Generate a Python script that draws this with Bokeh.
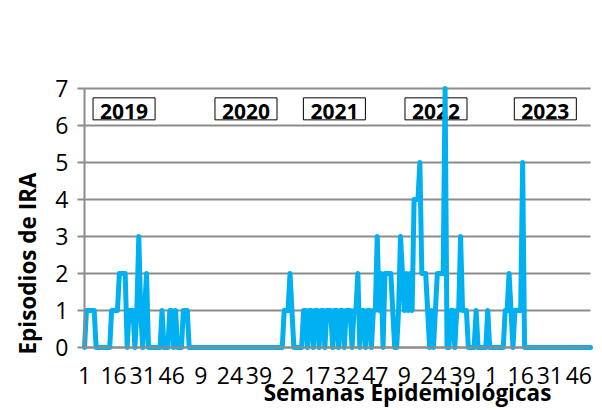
from math import pi
from bokeh.plotting import figure
from bokeh.models import Range1d, FixedTicker, Label
from bokeh.embed import file_html
from bokeh.resources import INLINE

# ---------------- data ----------------
years = ["2019", "2020", "2021", "2022", "2023"]
weeks_per_year = [52, 52, 53, 53, 52]

ira_2019 = [0, 1, 1, 1, 1, 1, 0, 0, 0, 0,
            0, 0, 0, 0, 1, 1, 1, 1, 2, 2,
            2, 2, 0, 1, 1, 1, 0, 1, 3, 1,
            0, 1, 2, 0, 0, 0, 0, 0, 0, 0,
            1, 0, 0, 0, 1, 1, 0, 1, 0, 0,
            0, 1]
ira_2020 = [1, 1, 0, 0, 0, 0, 0, 0, 0, 0,
            0, 0, 0, 0, 0, 0, 0, 0, 0, 0,
            0, 0, 0, 0, 0, 0, 0, 0, 0, 0,
            0, 0, 0, 0, 0, 0, 0, 0, 0, 0,
            0, 0, 0, 0, 0, 0, 0, 0, 0, 0,
            0, 1]
ira_2021 = [1, 1, 2, 1, 0, 0, 0, 0, 0, 1,
            1, 0, 1, 1, 0, 1, 1, 0, 1, 1,
            0, 1, 1, 1, 0, 1, 1, 0, 1, 1,
            0, 1, 1, 1, 0, 1, 1, 2, 0, 1,
            1, 0, 1, 1, 0, 1, 1, 3, 1, 2,
            0, 2, 2]
ira_2022 = [2, 2, 1, 0, 0, 1, 3, 2, 1, 2,
            1, 2, 1, 4, 4, 4, 5, 2, 2, 2,
            1, 0, 1, 0, 1, 2, 2, 2, 2, 7,
            0, 0, 1, 1, 0, 1, 1, 3, 1, 1,
            1, 0, 0, 0, 0, 1, 0, 0, 0, 0,
            0, 1, 0]
ira_2023 = [0, 0, 0, 0, 0, 0, 0, 1, 1, 2,
            1, 0, 1, 1, 1, 1, 5, 0, 0, 0,
            0, 0, 0, 0, 0, 0, 0, 0, 0, 0,
            0, 0, 0, 0, 0, 0, 0, 0, 0, 0,
            0, 0, 0, 0, 0, 0, 0, 0, 0, 0,
            0, 0]

y_ticks = [0, 1, 2, 3, 4, 5, 6, 7]
x_title = "Semanas Epidemiológicas"
y_title = "Episodios de IRA"

# ------------- derived ----------------
series = [ira_2019, ira_2020, ira_2021, ira_2022, ira_2023]
values = [v for s in series for v in s]
week_numbers = [w for n in weeks_per_year for w in range(1, n + 1)]
xs = list(range(len(values)))
year_start = [sum(weeks_per_year[:i]) for i in range(len(weeks_per_year))]
x_last = len(values) - 1
y_max = max(y_ticks)

FONT = "Open Sans"
GRID = "#8c8c8c"
BLUE = "#00B0F0"

W, H = 600, 408
# plot area: x 84..590 px, y=0 at 347 px, y=7 at 88 px
kx = (590 - 84) / x_last
ky = (347 - 88) / y_max
p = figure(width=W, height=H, output_backend="svg", toolbar_location=None,
           x_range=Range1d(-84 / kx, x_last + (W - 590) / kx),
           y_range=Range1d(-(H - 347) / ky, y_max + 88 / ky))
p.min_border = 0
p.outline_line_color = None
p.background_fill_color = "white"
p.border_fill_color = "white"

# grid
p.xgrid.visible = False
p.ygrid.grid_line_color = GRID
p.ygrid.grid_line_width = 2
g = p.ygrid[0]
if "cross_bounds" in g.properties():
    g.cross_bounds = (0, x_last)

# y axis at x = 0
p.yaxis.fixed_location = 0
p.yaxis.ticker = FixedTicker(ticks=y_ticks)
p.yaxis.bounds = (0, y_max)
p.yaxis.axis_line_color = GRID
p.yaxis.axis_line_width = 2
p.yaxis.major_tick_line_color = GRID
p.yaxis.major_tick_line_width = 2
p.yaxis.major_tick_out = 7
p.yaxis.major_tick_in = 0
p.yaxis.minor_tick_line_color = None
p.yaxis.major_label_text_font = FONT
p.yaxis.major_label_text_font_size = "23px"
p.yaxis.major_label_text_color = "black"
p.yaxis.major_label_standoff = 9

# x axis on y = 0
tick_idx = list(range(0, len(values), 15))
p.xaxis.fixed_location = 0
p.xaxis.bounds = (0, x_last)
p.xaxis.ticker = FixedTicker(ticks=tick_idx)
p.xaxis.major_label_overrides = {t: str(week_numbers[t]) for t in tick_idx}
p.xaxis.axis_line_color = GRID
p.xaxis.axis_line_width = 2
p.xaxis.major_tick_line_color = None
p.xaxis.major_tick_out = 0
p.xaxis.major_tick_in = 0
p.xaxis.minor_tick_line_color = None
p.xaxis.major_label_text_font = FONT
p.xaxis.major_label_text_font_size = "23px"
p.xaxis.major_label_text_color = "black"
p.xaxis.major_label_standoff = 19

# year boxes (under the data line)
year_label_offset = [20.4, 31.3, 24.9, 24.3, 27.7]
for yr, st, off in zip(years, year_start, year_label_offset):
    p.add_layout(Label(x=st + off, y=6.45, text=yr, text_align="center",
                       text_baseline="middle", text_font=FONT,
                       text_font_style="bold", text_font_size="21px",
                       text_color="black", border_line_color="black",
                       border_line_width=1, background_fill_color="white",
                       padding=dict(left=7, right=7, top=6, bottom=1),
                       level="underlay"))

# data line
p.line(xs, values, line_color=BLUE, line_width=5, line_join="round",
       line_cap="round")

# axis titles
p.add_layout(Label(x=(27 - 84) / kx, y=(347 - 263) / ky, text=y_title,
                   angle=pi / 2, text_align="center", text_baseline="middle",
                   text_font=FONT, text_font_style="bold",
                   text_font_size="22.5px", text_color="black"))
p.add_layout(Label(x=(407 - 84) / kx, y=-1.22, text=x_title,
                   text_align="center", text_baseline="middle",
                   text_font=FONT, text_font_style="bold",
                   text_font_size="22.5px", text_color="black"))

open("out.html", "w").write(file_html(p, INLINE))
